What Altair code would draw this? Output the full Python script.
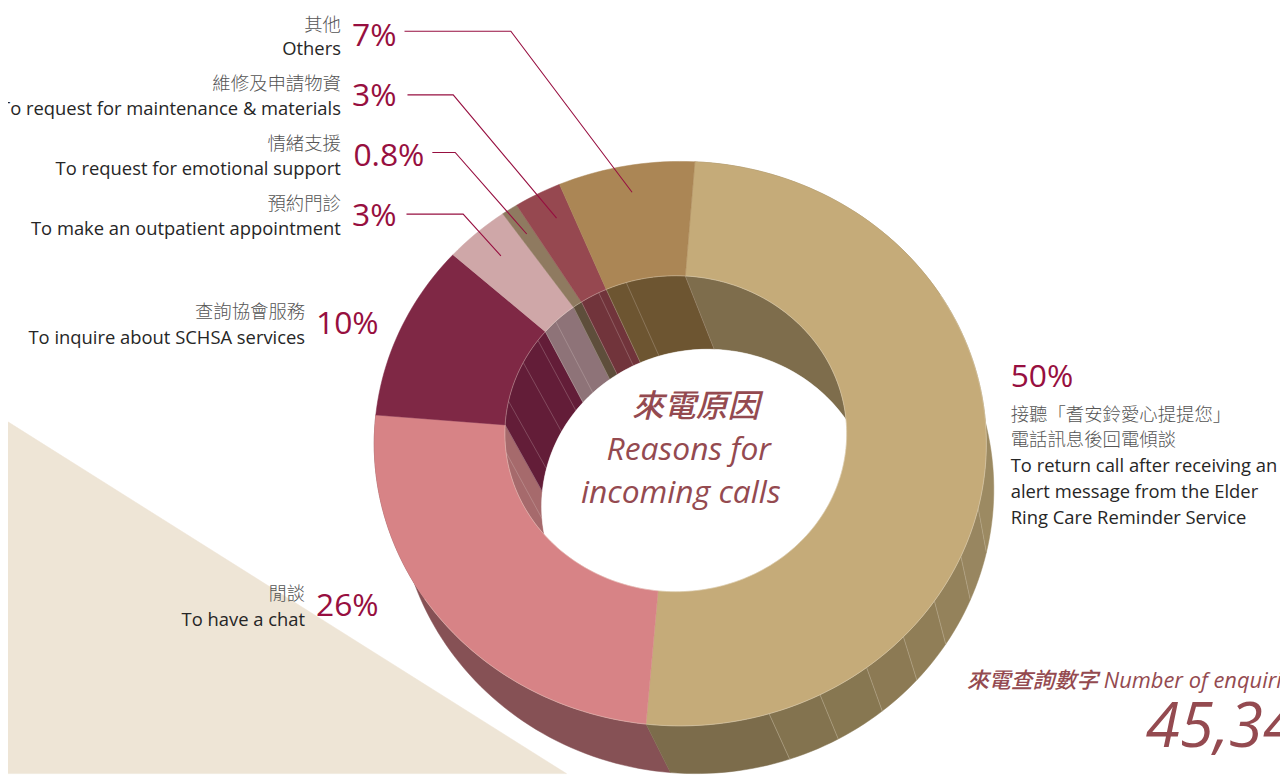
import math
import altair as alt
import pandas as pd

# ---- values
slice_names = ["call back", "chat", "services", "appointment", "emotional", "materials", "others"]
slice_sizes = [50.1, 25.0, 10.4, 3.6, 0.9, 2.6, 7.4]
top_colors = ["#C5AB79", "#D78386", "#7F2845", "#CFA7A8", "#8F7A60", "#964850", "#AB8655"]
inner_colors = ["#7E6D4C", "#A66A6C", "#631D38", "#8E7378", "#5E4E3B", "#71343B", "#6D5531"]
outer_colors = ["#7C6C4B", "#865155"]
start_angle = 4.4

# shaded facets of the big slice's side wall (angle, colour)
facet_angles = [162, 152, 142, 133, 124, 114, 104]
facet_colors = ["#7C6C4B", "#83734F", "#877751", "#8C7A54", "#907E57", "#94825B", "#988660", "#9C8A62"]
inner_facet_angles = [344.8, 335, 317.3, 308.2, 298.7, 283.6, 264.5]

pct_labels = ["7%", "3%", "0.8%", "3%", "10%", "26%"]
pct_x = [399, 399, 427, 399, 381, 381]
pct_y = [44, 104, 165, 225, 334, 617]
zh_labels = ["其他", "維修及申請物資", "情緒支援", "預約門診", "查詢協會服務", "閒談"]
en_labels = ["Others", "To request for maintenance & materials", "To request for emotional support",
             "To make an outpatient appointment", "To inquire about SCHSA services", "To have a chat"]
label_x = [343, 343, 343, 343, 307, 307]
zh_y = [29, 88, 148, 209, 318, 601]
en_y = [53, 113, 174, 234, 344, 627]

right_pct = "50%"
right_zh = ["接聽「耆安鈴愛心提提您」", "電話訊息後回電傾談"]
right_zh_y = [421, 446]
right_en = ["To return call after receiving an", "alert message from the Elder", "Ring Care Reminder Service"]
right_en_y = [472, 499, 525]

center_text = ["來電原因", "Reasons for", "incoming calls"]
center_x = [700, 693, 685]
center_y = [417, 460, 504]
enquiry_label = "來電查詢數字 Number of enquiries"
enquiry_value = "45,34"

leader_x = [[407, 514, 636], [410, 456, 560], [435, 458, 530], [409, 466, 504]]
leader_y = [[29, 29, 191], [93, 93, 217], [151, 151, 233], [213, 213, 255]]

bg_x = [0, 570, 0, 0]
bg_y = [417, 776, 776, 417]

# ---- ellipses of the tilted ring: (centre x, centre y, rx, ry, pivot x, pivot y)
TOP_OUT = (684.5, 444, 308, 284, 676, 438)
TOP_IN = (680, 434, 172, 159, 676, 438)
LOW_OUT = (700, 490, 300, 286, 700, 484)
LOW_IN = (712, 507, 167, 158, 706, 505)


def pt(e, deg):
    cx, cy, rx, ry, px, py = e
    a = math.radians(deg)
    dx, dy = math.sin(a), -math.cos(a)
    ox, oy = (px - cx) / rx, (py - cy) / ry
    b = ox * dx + oy * dy
    c = ox * ox + oy * oy - 1
    t = -b + math.sqrt(b * b - c)
    return cx + rx * (ox + t * dx), cy + ry * (oy + t * dy)


def arc(e, a0, a1):
    n = max(2, int(abs(a1 - a0) / 1.5) + 2)
    return [pt(e, a0 + (a1 - a0) * i / (n - 1)) for i in range(n)]


def band(e0, e1, a0, a1):
    return arc(e0, a0, a1) + arc(e1, a1, a0)


edges = [start_angle]
for s in slice_sizes:
    edges.append(edges[-1] + s * 3.6)


def table(polys):
    rows = []
    for k, (pts, color) in enumerate(polys):
        closed = list(pts) + [pts[0]]
        for i, (x, y) in enumerate(closed):
            rows.append({"id": k, "i": i, "x": x, "y": y, "color": color})
    return pd.DataFrame(rows)


W, H = 1280, 768
X = alt.X("x:Q", axis=None, scale=alt.Scale(domain=[8, 1288], nice=False, zero=False))
Y = alt.Y("y:Q", axis=None, scale=alt.Scale(domain=[776, 8], nice=False, zero=False))


def fill_layer(polys, sw=0.5):
    return alt.Chart(table(polys)).mark_line(strokeWidth=sw, interpolate="linear").encode(
        x=X, y=Y, order="i:Q", detail="id:N",
        fill=alt.Fill("color:N", scale=None),
        stroke=alt.Stroke("color:N", scale=None),
    )


def stroke_layer(lines, color, sw=1.0, opacity=1.0):
    rows = []
    for k, pts in enumerate(lines):
        for i, (x, y) in enumerate(pts):
            rows.append({"id": k, "i": i, "x": x, "y": y})
    return alt.Chart(pd.DataFrame(rows)).mark_line(
        color=color, strokeWidth=sw, opacity=opacity, interpolate="linear"
    ).encode(x=X, y=Y, order="i:Q", detail="id:N")


FONT = "'Open Sans','Noto Sans CJK TC',sans-serif"


def text_layer(texts, xs, ys, size, color, align="right", italic=False, weight=400):
    df = pd.DataFrame({"t": texts, "x": xs, "y": ys})
    return alt.Chart(df).mark_text(
        font=FONT, fontSize=size, color=color, align=align, baseline="alphabetic",
        fontStyle="italic" if italic else "normal", fontWeight=weight,
    ).encode(x=X, y=Y, text="t:N")


# side wall of the two slices at the front
facet_edges = [edges[1]] + facet_angles + [edges[0]]
wall = [(band(TOP_OUT, LOW_OUT, edges[1], edges[2]), outer_colors[1])]
wall += [(band(TOP_OUT, LOW_OUT, facet_edges[i], facet_edges[i + 1]), facet_colors[i])
         for i in range(len(facet_colors))]
wall_lines = [[pt(TOP_OUT, a), pt(LOW_OUT, a)] for a in facet_angles]

# inner wall seen through the hole
inner = [(band(TOP_IN, LOW_IN, edges[i], edges[i + 1]), inner_colors[i]) for i in range(len(slice_sizes))]
inner_lines = [[pt(TOP_IN, a), pt(LOW_IN, a)] for a in inner_facet_angles + edges[:-1]]
hole = [(arc(LOW_IN, 0, 360), "#FFFFFF")]

# top face of the ring
ring = [(band(TOP_OUT, TOP_IN, edges[i], edges[i + 1]), top_colors[i]) for i in range(len(slice_sizes))]
rims = [arc(TOP_IN, 0, 360), arc(TOP_OUT, 60, edges[2] - 40)]

BERRY = "#970F40"
CENTER = "#944A50"
ZH = "#555555"
EN = "#262626"

layers = [
    fill_layer([(list(zip(bg_x, bg_y)), "#EEE5D6")]),
    fill_layer(wall),
    stroke_layer(wall_lines, "#C9BFA6", 0.7, 0.6),
    fill_layer(inner),
    stroke_layer(inner_lines, "#E8DCD8", 0.6, 0.4),
    fill_layer(hole),
    fill_layer(ring),
    stroke_layer(rims, "#F1E8DA", 0.6, 0.55),
    stroke_layer([list(zip(a, b)) for a, b in zip(leader_x, leader_y)], BERRY, 1.1),
    text_layer(pct_labels, pct_x, pct_y, 32, BERRY),
    text_layer(zh_labels, label_x, zh_y, 18.5, ZH, weight=300),
    text_layer(en_labels, label_x, en_y, 18.5, EN),
    text_layer([right_pct], [1017], [387], 32, BERRY, align="left"),
    text_layer(right_zh, [1017, 1017], right_zh_y, 18.5, ZH, align="left", weight=300),
    text_layer(right_en, [1017, 1017, 1017], right_en_y, 18.5, EN, align="left"),
    text_layer(center_text, center_x, center_y, 32, CENTER, align="center", italic=True, weight=500),
    text_layer([enquiry_label], [973], [690], 22, CENTER, align="left", italic=True, weight=500),
    text_layer([enquiry_value], [1153], [749], 62, CENTER, align="left", italic=True),
]

chart = alt.layer(*layers).properties(
    width=W, height=H, padding=0,
    autosize=alt.AutoSizeParams(type="none"),
).configure_view(stroke=None)

chart.save("out.html", embed_options={"renderer": "svg", "actions": False})
